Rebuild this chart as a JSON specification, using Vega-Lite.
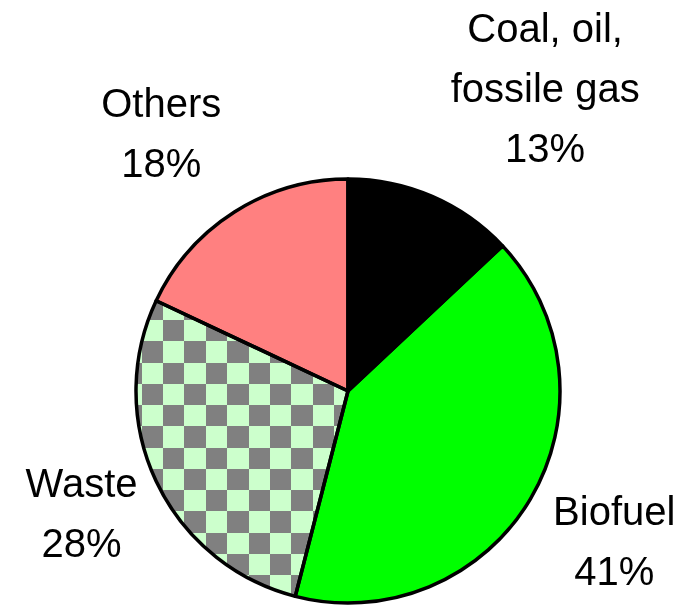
{
  "$schema": "https://vega.github.io/schema/vega-lite/v6.json",
  "autosize": "none",
  "width": 696,
  "height": 432,
  "padding": {"top": 175, "left": 0, "right": 3, "bottom": 0},
  "background": "#ffffff",
  "view": {"stroke": null},
  "data": {
    "values": [
      {"key": "coal", "name": "Coal, oil,\nfossile gas", "share": 13, "idx": 1},
      {"key": "biofuel", "name": "Biofuel", "share": 41, "idx": 2},
      {"key": "waste", "name": "Waste", "share": 28, "idx": 3},
      {"key": "others", "name": "Others", "share": 18, "idx": 4}
    ]
  },
  "transform": [
    {"calculate": "datum.name + '\\n' + datum.share + '%'", "as": "label"}
  ],
  "encoding": {
    "theta": {"field": "share", "type": "quantitative", "stack": true},
    "order": {"field": "idx", "type": "quantitative"}
  },
  "layer": [
    {
      "mark": {"type": "arc", "outerRadius": 212, "strokeWidth": 0},
      "encoding": {
        "color": {
          "condition": {
            "test": "datum.key === 'waste'",
            "value": {
              "gradient": "linear", "x1": 0, "y1": 0, "x2": 1, "y2": 0,
              "stops": [
                {"offset": 0, "color": "#000000"}, {"offset": 0.0269, "color": "#000000"},
                {"offset": 0.0269, "color": "#4c7f4c"}, {"offset": 0.1277, "color": "#4c7f4c"},
                {"offset": 0.1277, "color": "#000000"}, {"offset": 0.2285, "color": "#000000"},
                {"offset": 0.2285, "color": "#4c7f4c"}, {"offset": 0.3293, "color": "#4c7f4c"},
                {"offset": 0.3293, "color": "#000000"}, {"offset": 0.4301, "color": "#000000"},
                {"offset": 0.4301, "color": "#4c7f4c"}, {"offset": 0.5309, "color": "#4c7f4c"},
                {"offset": 0.5309, "color": "#000000"}, {"offset": 0.6317, "color": "#000000"},
                {"offset": 0.6317, "color": "#4c7f4c"}, {"offset": 0.7325, "color": "#4c7f4c"},
                {"offset": 0.7325, "color": "#000000"}, {"offset": 0.8333, "color": "#000000"},
                {"offset": 0.8333, "color": "#4c7f4c"}, {"offset": 0.9341, "color": "#4c7f4c"},
                {"offset": 0.9341, "color": "#000000"}, {"offset": 1, "color": "#000000"}
              ]
            }
          },
          "field": "key",
          "type": "nominal",
          "scale": {
            "domain": ["coal", "biofuel", "waste", "others"],
            "range": ["#000000", "#00ff00", "#ccffcc", "#ff8080"]
          },
          "legend": null
        }
      }
    },
    {
      "mark": {
        "type": "arc", "outerRadius": 212, "strokeWidth": 0, "blend": "difference",
        "fill": {
          "gradient": "linear", "x1": 0, "y1": 0, "x2": 0, "y2": 1,
          "stops": [
            {"offset": 0, "color": "#000000"}, {"offset": 0.0653, "color": "#000000"},
            {"offset": 0.0653, "color": "#4c7f4c"}, {"offset": 0.1372, "color": "#4c7f4c"},
            {"offset": 0.1372, "color": "#000000"}, {"offset": 0.2092, "color": "#000000"},
            {"offset": 0.2092, "color": "#4c7f4c"}, {"offset": 0.2812, "color": "#4c7f4c"},
            {"offset": 0.2812, "color": "#000000"}, {"offset": 0.3531, "color": "#000000"},
            {"offset": 0.3531, "color": "#4c7f4c"}, {"offset": 0.4251, "color": "#4c7f4c"},
            {"offset": 0.4251, "color": "#000000"}, {"offset": 0.4970, "color": "#000000"},
            {"offset": 0.4970, "color": "#4c7f4c"}, {"offset": 0.5690, "color": "#4c7f4c"},
            {"offset": 0.5690, "color": "#000000"}, {"offset": 0.6409, "color": "#000000"},
            {"offset": 0.6409, "color": "#4c7f4c"}, {"offset": 0.7129, "color": "#4c7f4c"},
            {"offset": 0.7129, "color": "#000000"}, {"offset": 0.7848, "color": "#000000"},
            {"offset": 0.7848, "color": "#4c7f4c"}, {"offset": 0.8568, "color": "#4c7f4c"},
            {"offset": 0.8568, "color": "#000000"}, {"offset": 0.9288, "color": "#000000"},
            {"offset": 0.9288, "color": "#4c7f4c"}, {"offset": 1, "color": "#4c7f4c"}
          ]
        }
      },
      "encoding": {
        "fillOpacity": {"condition": {"test": "datum.key === 'waste'", "value": 1}, "value": 0}
      }
    },
    {
      "mark": {"type": "arc", "outerRadius": 212, "strokeWidth": 0, "blend": "difference", "fill": "#ccffcc"},
      "encoding": {
        "fillOpacity": {"condition": {"test": "datum.key === 'waste'", "value": 1}, "value": 0}
      }
    },
    {
      "mark": {"type": "arc", "outerRadius": 212, "filled": false, "stroke": "#000000", "strokeWidth": 3.5, "strokeJoin": "round"}
    },
    {
      "mark": {"type": "text", "radius": 300, "dx": 78, "dy": -86, "font": "Liberation Sans", "fontSize": 40, "lineHeight": 60, "lineBreak": "\n", "align": "center", "baseline": "middle", "color": "#000000"},
      "encoding": {
        "text": {"field": "label", "type": "nominal"},
        "opacity": {"condition": {"test": "datum.key === 'coal'", "value": 1}, "value": 0}
      }
    },
    {
      "mark": {"type": "text", "radius": 300, "dx": 8, "dy": -31, "font": "Liberation Sans", "fontSize": 40, "lineHeight": 60, "lineBreak": "\n", "align": "center", "baseline": "middle", "color": "#000000"},
      "encoding": {
        "text": {"field": "label", "type": "nominal"},
        "opacity": {"condition": {"test": "datum.key === 'biofuel'", "value": 1}, "value": 0}
      }
    },
    {
      "mark": {"type": "text", "radius": 300, "dx": 5, "dy": -34, "font": "Liberation Sans", "fontSize": 40, "lineHeight": 60, "lineBreak": "\n", "align": "center", "baseline": "middle", "color": "#000000"},
      "encoding": {
        "text": {"field": "label", "type": "nominal"},
        "opacity": {"condition": {"test": "datum.key === 'waste'", "value": 1}, "value": 0}
      }
    },
    {
      "mark": {"type": "text", "radius": 300, "dx": -26, "dy": -33, "font": "Liberation Sans", "fontSize": 40, "lineHeight": 60, "lineBreak": "\n", "align": "center", "baseline": "middle", "color": "#000000"},
      "encoding": {
        "text": {"field": "label", "type": "nominal"},
        "opacity": {"condition": {"test": "datum.key === 'others'", "value": 1}, "value": 0}
      }
    }
  ]
}
